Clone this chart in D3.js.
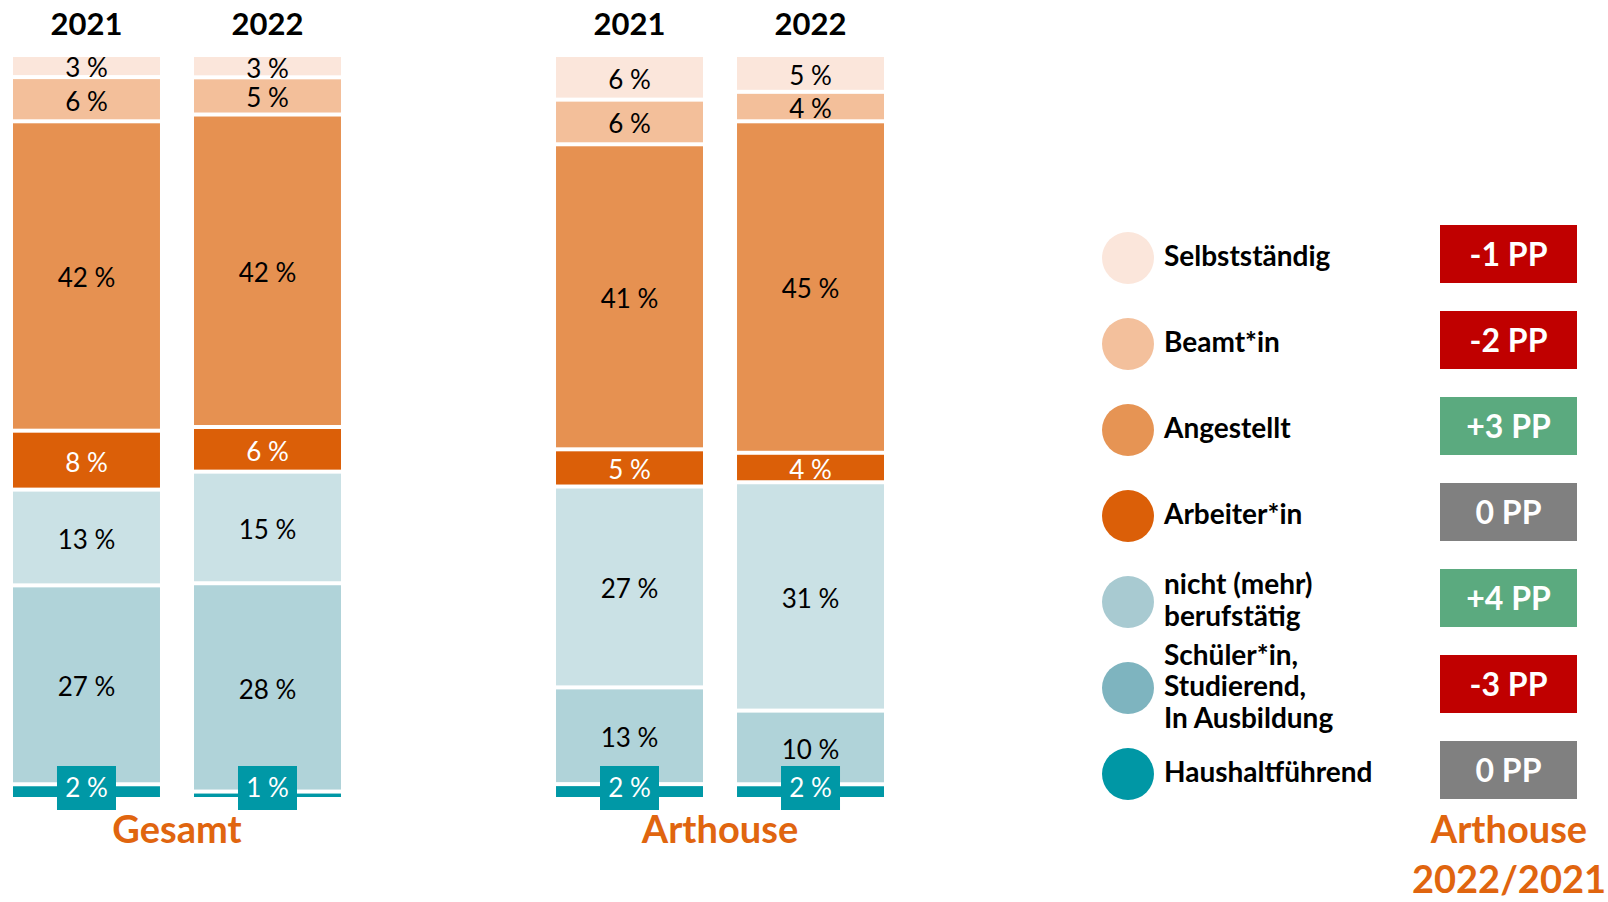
<!DOCTYPE html>
<html>
<head>
<meta charset="utf-8">
<script src="https://cdn.jsdelivr.net/npm/d3@7"></script>
<style>
  body { margin: 0; background: #fff; }
  svg { display: block; font-family: Lato, "Open Sans", sans-serif; }
</style>
</head>
<body>
<div id="chart"></div>
<script>
// categories from top of the stack to the bottom
const categories = ["Selbstständig", "Beamt*in", "Angestellt", "Arbeiter*in",
  "nicht (mehr) berufstätig", "Schüler*in, Studierend, In Ausbildung", "Haushaltführend"];
const legendLines = [["Selbstständig"], ["Beamt*in"], ["Angestellt"], ["Arbeiter*in"],
  ["nicht (mehr)", "berufstätig"], ["Schüler*in,", "Studierend,", "In Ausbildung"], ["Haushaltführend"]];
const groups = ["Gesamt", "Arthouse"];
const years = ["2021", "2022"];

const gesamt2021 = [3, 6, 42, 8, 13, 27, 2];
const gesamt2022 = [3, 5, 42, 6, 15, 28, 1];
const arthouse2021 = [6, 6, 41, 5, 27, 13, 2];
const arthouse2022 = [5, 4, 45, 4, 31, 10, 2];

// change Arthouse 2022 vs 2021 in percentage points (as shown)
const changes = [-1, -2, 3, 0, 4, -3, 0];

// colours
const barColors = ["#FBE6DB", "#F3BF9A", "#E69151", "#DB5F08", "#CAE1E5", "#B0D3D9", "#0098A6"];
const legendColors = ["#FBE6DB", "#F3C09C", "#E69454", "#DB5F08", "#A8CAD1", "#7EB4BF", "#0097A5"];
const labelColors = ["#000", "#000", "#000", "#fff", "#000", "#000", "#fff"];
const accent = "#E0650F";

const width = 1608, height = 902;

const svg = d3.select("#chart").append("svg")
  .attr("width", width)
  .attr("height", height);

// rows: one per group/year
const rows = [
  { group: "Gesamt", year: "2021", values: gesamt2021 },
  { group: "Gesamt", year: "2022", values: gesamt2022 },
  { group: "Arthouse", year: "2021", values: arthouse2021 },
  { group: "Arthouse", year: "2022", values: arthouse2022 },
].map(r => {
  const o = { group: r.group, year: r.year };
  categories.forEach((c, i) => { o[c] = r.values[i]; });
  return o;
});

// stack bottom-up: Haushalt at the bottom, Selbstständig on top
const stack = d3.stack()
  .keys(categories.slice().reverse())
  .offset(d3.stackOffsetExpand);
const series = stack(rows);

// scales
const x0 = d3.scaleBand().domain(groups).range([13, 884]).paddingInner(0.396);
const x1 = d3.scaleBand().domain(years).range([0, x0.bandwidth()]).paddingInner(0.188);
const y = d3.scaleLinear().domain([0, 1]).range([799, 55]);
const color = d3.scaleOrdinal().domain(categories).range(barColors);
const txtColor = d3.scaleOrdinal().domain(categories).range(labelColors);

const barX = d => x0(d.data.group) + x1(d.data.year);
const gap = 2; // half of the white gap between segments

// draw the segments
svg.append("g")
  .selectAll("g")
  .data(series)
  .join("g")
  .attr("fill", s => color(s.key))
  .selectAll("rect")
  .data(s => s)
  .join("rect")
  .attr("x", barX)
  .attr("width", x1.bandwidth())
  .attr("y", d => y(d[1]) + gap)
  .attr("height", d => Math.max(0, y(d[0]) - y(d[1]) - 2 * gap));

// value labels (drawn after all segments so the boxes sit on top)
const lastKey = categories[categories.length - 1];
const labels = svg.append("g")
  .selectAll("g")
  .data(series)
  .join("g");

labels.each(function(s) {
  const g = d3.select(this);
  if (s.key === lastKey) {
    // boxed labels for the thin bottom band
    const lab = g.selectAll("g.box")
      .data(s)
      .join("g")
      .attr("class", "box")
      .attr("transform", d => `translate(${barX(d) + x1.bandwidth() / 2},${y(0) - 11})`);
    lab.append("rect")
      .attr("x", -29.5).attr("y", -22)
      .attr("width", 59).attr("height", 44)
      .attr("fill", color(s.key));
    lab.append("text")
      .attr("text-anchor", "middle")
      .attr("dy", "0.36em")
      .attr("font-size", 26)
      .attr("fill", "#fff")
      .text(d => `${d.data[s.key]} %`);
  } else {
    g.selectAll("text")
      .data(s)
      .join("text")
      .attr("x", d => barX(d) + x1.bandwidth() / 2)
      .attr("y", d => (y(d[0]) + y(d[1])) / 2 + 2)
      .attr("dy", "0.36em")
      .attr("text-anchor", "middle")
      .attr("font-size", 26)
      .attr("fill", txtColor(s.key))
      .text(d => `${d.data[s.key]} %`);
  }
});

// year headers
svg.append("g")
  .selectAll("text")
  .data(rows)
  .join("text")
  .attr("x", d => x0(d.group) + x1(d.year) + x1.bandwidth() / 2)
  .attr("y", 35)
  .attr("text-anchor", "middle")
  .attr("font-size", 31)
  .attr("font-weight", "bold")
  .attr("fill", "#000")
  .text(d => d.year);

// group labels
svg.append("g")
  .selectAll("text")
  .data(groups)
  .join("text")
  .attr("x", d => x0(d) + x0.bandwidth() / 2)
  .attr("y", 843)
  .attr("text-anchor", "middle")
  .attr("font-size", 38)
  .attr("font-weight", "bold")
  .attr("fill", accent)
  .text(d => d);

// legend
const ly = d3.scalePoint().domain(categories).range([258, 774]);
const legend = svg.append("g")
  .selectAll("g")
  .data(categories)
  .join("g")
  .attr("transform", d => `translate(0,${ly(d)})`);

legend.append("circle")
  .attr("cx", 1128)
  .attr("r", 26)
  .attr("fill", (d, i) => legendColors[i]);

legend.append("text")
  .attr("font-size", 28)
  .attr("font-weight", "bold")
  .attr("fill", "#000")
  .each(function(d, i) {
    const lines = legendLines[i];
    const lh = 31.5;
    const start = -(lines.length - 1) / 2 * lh;
    d3.select(this).selectAll("tspan")
      .data(lines)
      .join("tspan")
      .attr("x", 1164)
      .attr("y", (l, j) => start + j * lh - 2)
      .attr("dy", "0.36em")
      .text(l => l);
  });

// change boxes
const changeColor = v => v > 0 ? "#5BAA7F" : v < 0 ? "#C00000" : "#808080";
const changeText = v => (v > 0 ? "+" : v < 0 ? "-" : "") + Math.abs(v) + " PP";

legend.append("rect")
  .attr("x", 1440)
  .attr("y", -33)
  .attr("width", 137)
  .attr("height", 58)
  .attr("fill", (d, i) => changeColor(changes[i]));

legend.append("text")
  .attr("x", 1440 + 137 / 2)
  .attr("y", -4)
  .attr("dy", "0.36em")
  .attr("text-anchor", "middle")
  .attr("font-size", 32)
  .attr("font-weight", "bold")
  .attr("fill", "#fff")
  .text((d, i) => changeText(changes[i]));

// footer for the change column
svg.append("text")
  .attr("text-anchor", "middle")
  .attr("font-size", 38)
  .attr("font-weight", "bold")
  .attr("fill", accent)
  .selectAll("tspan")
  .data(["Arthouse", "2022/2021"])
  .join("tspan")
  .attr("x", 1509)
  .attr("y", (d, i) => 843 + i * 50)
  .text(d => d);
</script>
</body>
</html>
